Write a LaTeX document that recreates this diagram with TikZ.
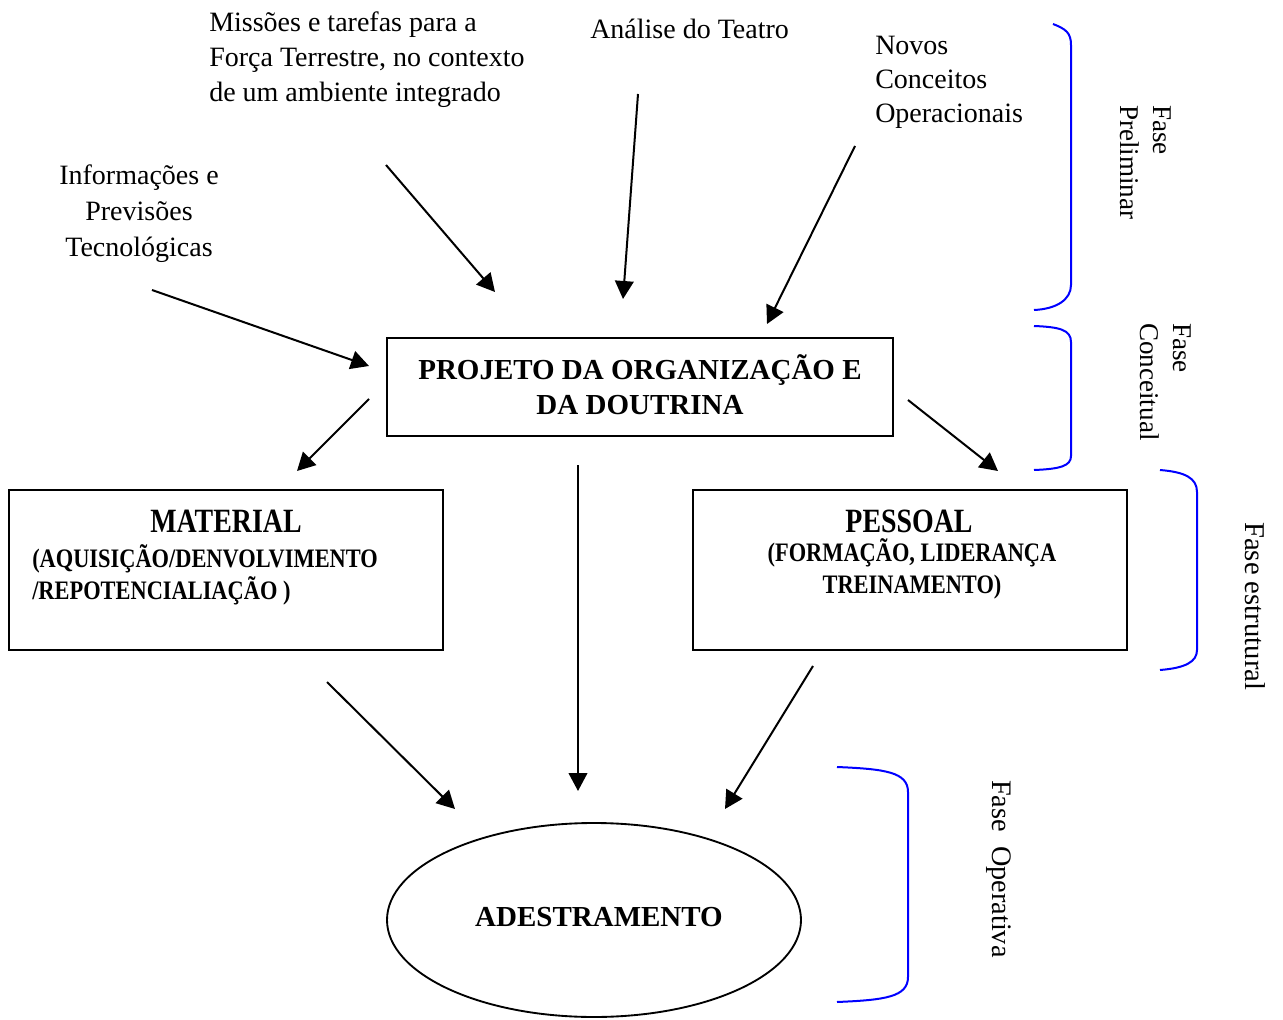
\documentclass[tikz,border=0pt]{standalone}
\usepackage{fontspec}
\setmainfont{Liberation Serif}
% condensed bold faces used inside the two side boxes
\newfontfamily\titlecond[FakeStretch=0.82]{Liberation Serif}
\newfontfamily\subcond[FakeStretch=0.84]{Liberation Serif}
\usetikzlibrary{arrows.meta,shapes.geometric}

\begin{document}
\begin{tikzpicture}[x=0.75pt,y=-0.75pt,
  note/.style={inner sep=0pt, font=\fontsize{21}{26.25}\selectfont},
  phase/.style={inner sep=0pt, rotate=-90, font=\fontsize{20.3}{24.75}\selectfont},
  boxframe/.style={draw, line width=1.6pt, inner sep=0pt},
  boldtext/.style={inner sep=0pt, font=\bfseries\fontsize{21.75}{26.6}\selectfont},
  boxtitle/.style={inner sep=0pt, font=\titlecond\bfseries\fontsize{25.5}{30}\selectfont},
  boxsub/.style={inner sep=0pt, font=\subcond\bfseries\fontsize{20}{24.5}\selectfont},
  arr/.style={line width=1.5pt, -{Triangle[length=13.5pt,width=14pt]}},
  brace/.style={draw=blue, line width=1.5pt},
]
\path[use as bounding box] (0,0) rectangle (1283,1020);

% ---- input texts ----
\node[note, anchor=base west] (mis) at (209,32)
  {\begin{tabular}[t]{@{}l@{}}Missões e tarefas para a\\Força Terrestre, no contexto\\de um ambiente integrado\end{tabular}};
\node[note, anchor=base west] (ana) at (590,39) {Análise do Teatro};
\node[note, anchor=base west, font=\fontsize{21}{25.5}\selectfont] (nov) at (875,55)
  {\begin{tabular}[t]{@{}l@{}}Novos\\Conceitos\\Operacionais\end{tabular}};
\node[note, anchor=base, font=\fontsize{21}{27}\selectfont] (inf) at (139,185)
  {\begin{tabular}[t]{@{}c@{}}Informações e\\Previsões\\Tecnológicas\end{tabular}};

% ---- main boxes ----
\node[boxframe, minimum width=379.5pt, minimum height=73.5pt] (proj) at (640,387) {};
\node[boldtext, anchor=base] (projt) at (640,379)
  {\begin{tabular}[t]{@{}c@{}}PROJETO DA ORGANIZAÇÃO E\\DA DOUTRINA\end{tabular}};

\node[boxframe, minimum width=325.5pt, minimum height=120pt] (mat) at (226,570) {};
\node[boxtitle, anchor=base] (matt) at (226,532) {MATERIAL};
\node[boxsub, anchor=base west] (mats) at (32,567)
  {\begin{tabular}[t]{@{}l@{}}(AQUISIÇÃO/DENVOLVIMENTO\\/REPOTENCIALIAÇÃO )\end{tabular}};

\node[boxframe, minimum width=325.5pt, minimum height=120pt] (pes) at (910,570) {};
\node[boxtitle, anchor=base] (pest) at (909,532) {PESSOAL};
\node[boxsub, anchor=base, font=\subcond\bfseries\fontsize{20}{24}\selectfont] (pess) at (912,561)
  {\begin{tabular}[t]{@{}c@{}}(FORMAÇÃO, LIDERANÇA\\TREINAMENTO)\end{tabular}};

\node[ellipse, draw, line width=1.4pt, inner sep=0pt, minimum width=310.5pt, minimum height=145.5pt] (ade) at (594,920) {};
\node[boldtext, anchor=base] (adet) at (599,926) {ADESTRAMENTO};

% ---- arrow end points ----
\coordinate (misA) at (386,165);  \coordinate (misB) at (495,292);
\coordinate (anaA) at (638,94);   \coordinate (anaB) at (623,299);
\coordinate (novA) at (855,146);  \coordinate (novB) at (767,324);
\coordinate (infA) at (152,290);  \coordinate (infB) at (369,366);
\coordinate (pmA)  at (369,399);  \coordinate (pmB)  at (297,471);
\coordinate (ppA)  at (908,400);  \coordinate (ppB)  at (998,471);
\coordinate (paA)  at (578,465);  \coordinate (paB)  at (578,791);
\coordinate (maA)  at (327,682);  \coordinate (maB)  at (455,809);
\coordinate (peA)  at (813,666);  \coordinate (peB)  at (725,809);

\draw[arr] (misA) -- (misB);
\draw[arr] (anaA) -- (anaB);
\draw[arr] (novA) -- (novB);
\draw[arr] (infA) -- (infB);
\draw[arr] (pmA) -- (pmB);
\draw[arr] (ppA) -- (ppB);
\draw[arr] (paA) -- (paB);
\draw[arr] (maA) -- (maB);
\draw[arr] (peA) -- (peB);

% ---- phase brackets ----
\draw[brace] (1053,24) .. controls (1066,29) and (1071,33) .. (1071,45)
  -- (1071,285) .. controls (1071,300) and (1056,309) .. (1034,310);
\draw[brace] (1034,326) .. controls (1060,327) and (1071,330) .. (1071,342)
  -- (1071,456) .. controls (1071,466) and (1060,469) .. (1034,470);
\draw[brace] (1160,470) .. controls (1185,472) and (1197,478) .. (1197,492)
  -- (1197,650) .. controls (1197,662) and (1185,668) .. (1160,670);
\draw[brace] (837,767) .. controls (885,769) and (908,772) .. (908,792)
  -- (908,977) .. controls (908,997) and (885,1000) .. (837,1002);

% ---- phase labels ----
\node[phase, anchor=base west] (lprel) at (1153,105)
  {\begin{tabular}[t]{@{}l@{}}Fase\\Preliminar\end{tabular}};
\node[phase, anchor=base west] (lconc) at (1173,323)
  {\begin{tabular}[t]{@{}l@{}}Fase\\Conceitual\end{tabular}};
\node[phase, anchor=base west, font=\fontsize{21.5}{25}\selectfont] (lestr) at (1245,522) {Fase estrutural};
\node[phase, anchor=base west, font=\fontsize{21.2}{25}\selectfont] (loper) at (992,780) {Fase~~Operativa};
\end{tikzpicture}
\end{document}
